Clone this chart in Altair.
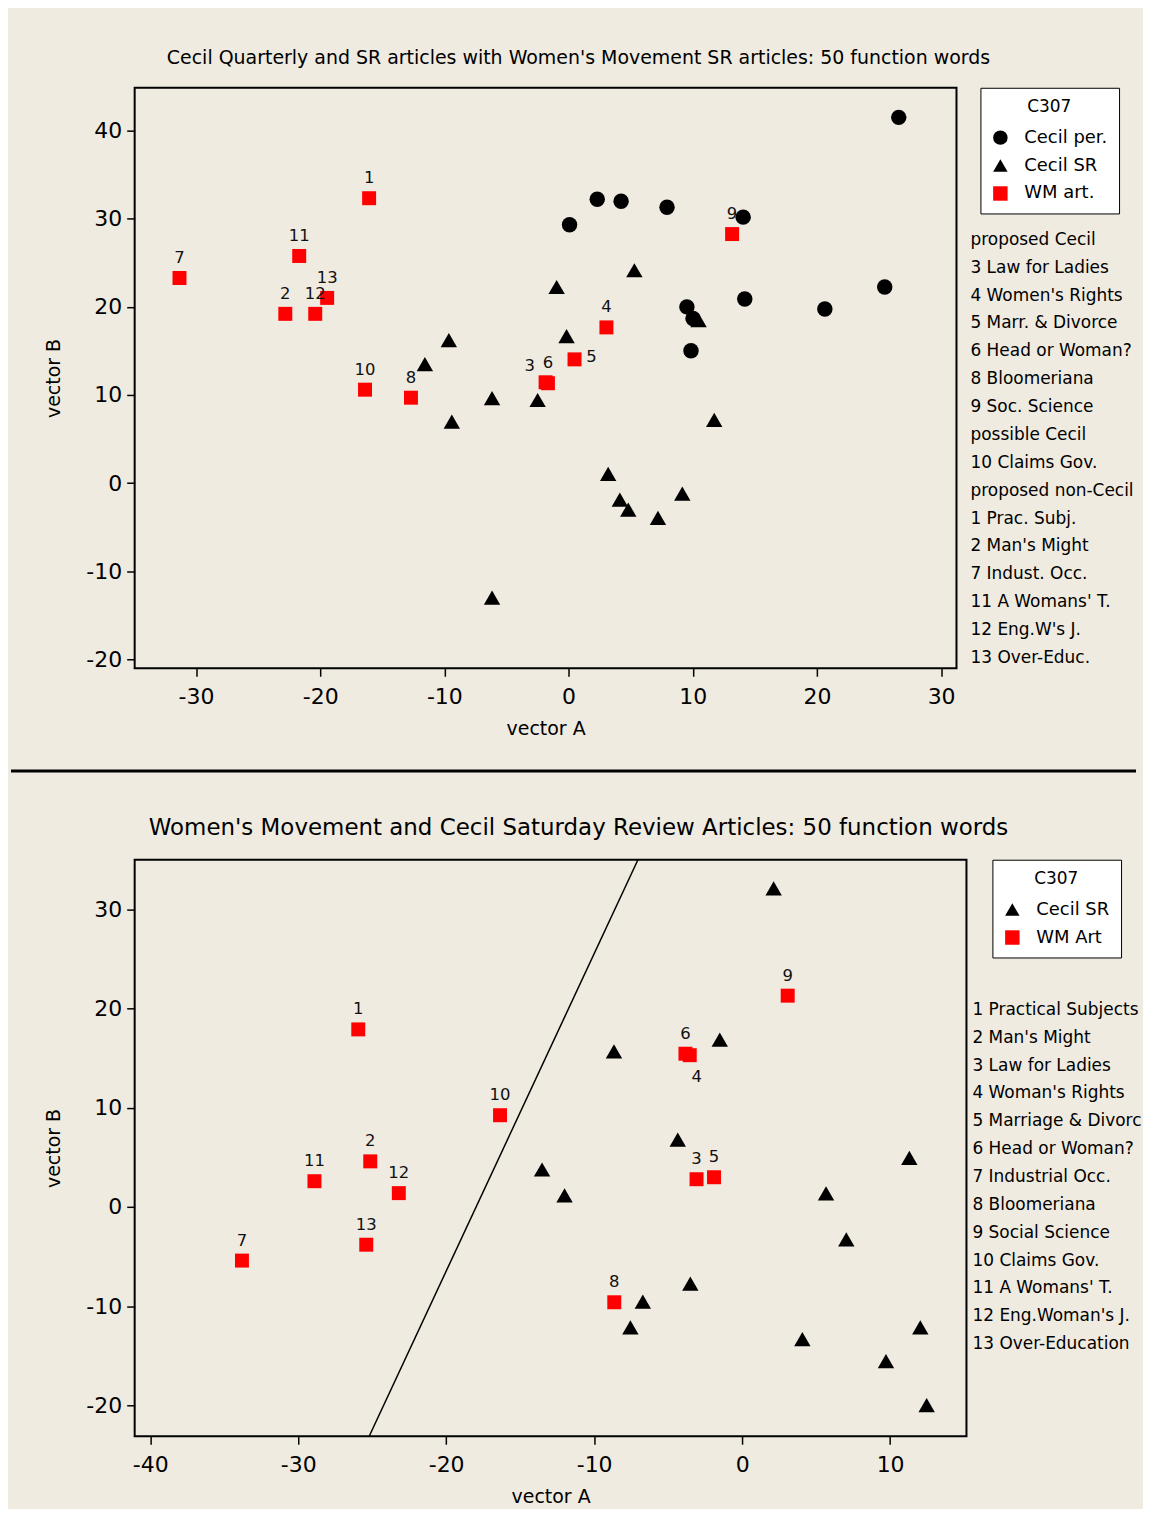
import altair as alt
import pandas as pd

FONT = "DejaVu Sans"
BG = "#EFEBE1"

# ---------------- top panel data ----------------
top_title = "Cecil Quarterly and SR articles with Women's Movement SR articles: 50 function words"
top_groups = ["Cecil per.", "Cecil SR", "WM art."]
top_shapes = ["circle", "triangle-up", "square"]
top_colors = ["black", "black", "red"]

top_per_x = [26.59, 2.31, 4.23, 7.93, 0.08, 14.06, 25.46, 14.19, 20.64, 9.53, 10.02, 9.86]
top_per_y = [41.52, 32.23, 32.0, 31.32, 29.33, 30.19, 22.26, 20.9, 19.77, 20.0, 18.69, 15.02]

top_sr_x = [-0.96, 5.3, -0.16, 10.47, -9.64, -11.57, -6.16, -2.49, -9.40, 11.73, 3.19, 4.13, 4.81, 7.2, 9.16, -6.16]
top_sr_y = [22.26, 24.16, 16.68, 18.49, 16.23, 13.51, 9.63, 9.43, 6.98, 7.17, 1.05, -1.89, -3.02, -3.96, -1.21, -13.02]

top_wm_id = ["1", "2", "3", "4", "5", "6", "7", "8", "9", "10", "11", "12", "13"]
top_wm_x = [-16.06, -22.81, -1.85, 3.05, 0.48, -1.66, -31.33, -12.69, 13.17, -16.39, -21.69, -20.4, -19.44]
top_wm_y = [32.34, 19.21, 11.44, 17.67, 14.04, 11.33, 23.28, 9.69, 28.27, 10.6, 25.78, 19.21, 21.02]
top_wm_pos = ["above", "above", "upleft", "above", "right", "above", "above",
              "above", "above", "above", "above", "above", "above"]

top_desc = ["proposed Cecil", "3 Law for Ladies", "4 Women's Rights", "5 Marr. & Divorce",
            "6 Head or Woman?", "8 Bloomeriana", "9 Soc. Science", "possible Cecil",
            "10 Claims Gov.", "proposed non-Cecil", "1 Prac. Subj.", "2 Man's Might",
            "7 Indust. Occ.", "11 A Womans' T.", "12 Eng.W's J.", "13 Over-Educ."]

top_xdom = [-34.94, 31.24]
top_ydom = [-21.03, 44.88]
top_xticks = [-30, -20, -10, 0, 10, 20, 30]
top_yticks = [-20, -10, 0, 10, 20, 30, 40]

# ---------------- bottom panel data ----------------
bot_title = "Women's Movement and Cecil Saturday Review Articles: 50 function words"
bot_groups = ["Cecil SR", "WM Art"]
bot_shapes = ["triangle-up", "square"]
bot_colors = ["black", "red"]

bot_sr_x = [2.13, -8.66, -1.51, -4.35, 11.3, -13.52, -12.0, 5.67, 7.04, -3.5, -6.71, -7.55, 4.07, 12.04, 9.72, 12.47]
bot_sr_y = [32.12, 15.68, 16.86, 6.8, 4.96, 3.78, 1.17, 1.37, -3.26, -7.72, -9.53, -12.14, -13.32, -12.14, -15.53, -19.96]

bot_wm_id = ["1", "2", "3", "4", "5", "6", "7", "8", "9", "10", "11", "12", "13"]
bot_wm_x = [-25.94, -25.13, -3.08, -3.54, -1.9, -3.83, -33.8, -8.64, 3.08, -16.36, -28.9, -23.2, -25.4]
bot_wm_y = [17.9, 4.6, 2.8, 15.3, 3.0, 15.45, -5.4, -9.6, 21.3, 9.25, 2.6, 1.4, -3.8]
bot_wm_pos = ["above", "above", "above", "below", "above", "above", "above",
              "above", "above", "above", "above", "above", "above"]

bot_line_x = [-7.04, -25.2]
bot_line_y = [35.0, -23.1]

bot_desc = ["1 Practical Subjects", "2 Man's Might", "3 Law for Ladies", "4 Woman's Rights",
            "5 Marriage & Divorc", "6 Head or Woman?", "7 Industrial Occ.", "8 Bloomeriana",
            "9 Social Science", "10 Claims Gov.", "11 A Womans' T.", "12 Eng.Woman's J.",
            "13 Over-Education"]

bot_xdom = [-41.05, 15.16]
bot_ydom = [-23.1, 35.0]
bot_xticks = [-40, -30, -20, -10, 0, 10]
bot_yticks = [-20, -10, 0, 10, 20, 30]

LABEL_OFFSETS = {"above": (0, -20), "upleft": (-16, -16), "right": (17, -2), "below": (7, 22)}
SIZES = {"circle": 240, "triangle-up": 270, "square": 196}
MINUS_FIX = "replace(datum.label, '\u2212', '-')"


def make_panel(series, wm_ids, wm_pos, groups, shapes, colors, desc, title, title_size,
               title_dx, title_offset, xdom, ydom, xticks, yticks, W, H,
               legend_x, desc_x, desc_y, line=None, sep_y=None):
    xs = alt.X("x:Q", scale=alt.Scale(domain=xdom, nice=False, zero=False),
               axis=alt.Axis(values=xticks, title="vector A", domain=False, grid=False,
                             tickSize=8, tickWidth=1.5, tickColor="black", labelExpr=MINUS_FIX,
                             labelFont=FONT, labelFontSize=22, labelColor="black",
                             labelPadding=10, titleFont=FONT, titleFontSize=19,
                             titleFontWeight="normal", titleColor="black", titlePadding=12))
    ys = alt.Y("y:Q", scale=alt.Scale(domain=ydom, nice=False, zero=False),
               axis=alt.Axis(values=yticks, title="vector B", domain=False, grid=False,
                             tickSize=8, tickWidth=1.5, tickColor="black", labelExpr=MINUS_FIX,
                             labelFont=FONT, labelFontSize=22, labelColor="black",
                             labelPadding=5, titleFont=FONT, titleFontSize=19,
                             titleFontWeight="normal", titleColor="black", titlePadding=22))
    leg = alt.Legend(title="C307", orient="none", legendX=legend_x, legendY=0,
                     titleFont=FONT, titleFontSize=17, titleFontWeight="normal",
                     titleColor="black", titleAnchor="middle", titlePadding=13,
                     labelFont=FONT, labelFontSize=18, labelColor="black",
                     symbolSize=210, symbolStrokeWidth=0, labelOffset=15,
                     rowPadding=10, padding=11, strokeColor="black", fillColor="white")
    shape_enc = alt.Shape("group:N", scale=alt.Scale(domain=groups, range=shapes), legend=leg)
    color_enc = alt.Color("group:N", scale=alt.Scale(domain=groups, range=colors), legend=leg)

    layers = []
    if line is not None:
        ldf = pd.DataFrame({"x": line[0], "y": line[1]})
        layers.append(alt.Chart(ldf).mark_line(color="black", strokeWidth=1.5, clip=True)
                      .encode(x=xs, y=ys))
    wm_frame = None
    for (gx, gy, g, shp) in series:
        df = pd.DataFrame({"x": gx, "y": gy, "group": g})
        layers.append(alt.Chart(df).mark_point(filled=True, opacity=1, size=SIZES[shp])
                      .encode(x=xs, y=ys, shape=shape_enc, color=color_enc))
        if shp == "square":
            wm_frame = pd.DataFrame({"x": gx, "y": gy, "id": wm_ids, "pos": wm_pos})
    for pos, (dx, dy) in LABEL_OFFSETS.items():
        sub = wm_frame[wm_frame["pos"] == pos]
        if len(sub) == 0:
            continue
        layers.append(alt.Chart(sub).mark_text(font=FONT, fontSize=16.5, color="#111111",
                                               dx=dx, dy=dy)
                      .encode(x=xs, y=ys, text="id:N"))
    ddf = pd.DataFrame({"desc": desc})
    layers.append(alt.Chart(ddf).mark_point(opacity=0, size=0).encode(
        fill=alt.Fill("desc:N", scale=alt.Scale(domain=desc, range=["transparent"]),
                      legend=alt.Legend(title=None, orient="none", legendX=desc_x, legendY=desc_y,
                                        symbolSize=0, symbolOpacity=0, symbolStrokeWidth=0,
                                        labelOffset=0, padding=0, rowPadding=9.94,
                                        labelFont=FONT, labelFontSize=17, labelColor="black",
                                        labelLimit=400, symbolLimit=50))))
    if sep_y is not None:
        layers.append(alt.Chart(alt.Data(values=[{}])).mark_rule(color="black", strokeWidth=3, clip=False)
                      .encode(x=alt.value(-124), x2=alt.value(1004), y=alt.value(sep_y)))
    return alt.layer(*layers).properties(
        width=W, height=H,
        title=alt.Title(title, font=FONT, fontSize=title_size, fontWeight="normal",
                        color="black", anchor="middle", frame="group", dx=title_dx,
                        offset=title_offset))


top = make_panel(
    [(top_per_x, top_per_y, "Cecil per.", "circle"),
     (top_sr_x, top_sr_y, "Cecil SR", "triangle-up"),
     (top_wm_x, top_wm_y, "WM art.", "square")],
    top_wm_id, top_wm_pos, top_groups, top_shapes, top_colors, top_desc,
    top_title, 19, 33, 19, top_xdom, top_ydom, top_xticks, top_yticks, 824, 582,
    legend_x=848, desc_x=821, desc_y=144, sep_y=685)

bot = make_panel(
    [(bot_sr_x, bot_sr_y, "Cecil SR", "triangle-up"),
     (bot_wm_x, bot_wm_y, "WM Art", "square")],
    bot_wm_id, bot_wm_pos, bot_groups, bot_shapes, bot_colors, bot_desc,
    bot_title, 23, 28, 19, bot_xdom, bot_ydom, bot_xticks, bot_yticks, 834, 578,
    legend_x=860, desc_x=823, desc_y=142, line=(bot_line_x, bot_line_y))

chart = alt.vconcat(top, bot, spacing=192, bounds="flush").resolve_scale(
    color="independent", shape="independent", fill="independent"
).resolve_legend(
    color="independent", shape="independent", fill="independent"
).properties(
    padding={"left": 0, "top": 38, "right": 0, "bottom": 0},
    background=BG,
).configure_view(fill="white", stroke="black", strokeWidth=2)

chart.save("out.html", embed_options={"renderer": "svg", "actions": False})
